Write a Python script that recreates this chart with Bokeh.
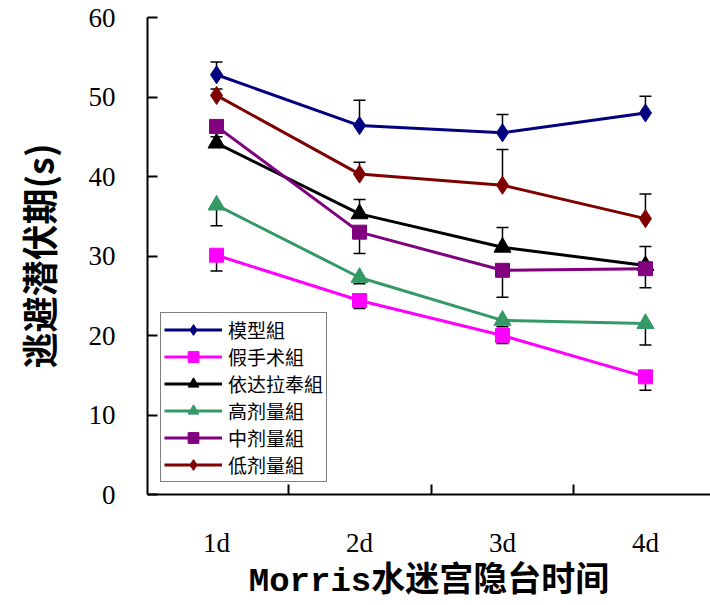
from bokeh.plotting import figure
from bokeh.models import (Range1d, FixedTicker, Whisker, TeeHead, ColumnDataSource,
                          Legend, LegendItem)
from bokeh.embed import file_html
from bokeh.resources import INLINE

# Escape latency (s) per training day, mean and one-sided error
days = ["1d", "2d", "3d", "4d"]
day_pos = [1, 2, 3, 4]

groups = ["模型組", "假手术組", "依达拉奉組", "高剂量組", "中剂量組", "低剂量組"]
means = {
    "模型組":   [52.8, 46.4, 45.5, 48.0],
    "假手术組": [30.1, 24.4, 20.0, 14.8],
    "依达拉奉組": [44.2, 35.3, 31.1, 28.8],
    "高剂量組": [36.4, 27.3, 21.9, 21.5],
    "中剂量組": [46.3, 33.0, 28.2, 28.4],
    "低剂量組": [50.2, 40.3, 38.9, 34.7],
}
errors = {
    "模型組":   [1.6, 3.2, 2.3, 2.1],
    "假手术組": [2.0, 1.0, 1.0, 1.7],
    "依达拉奉組": [0.8, 1.8, 2.5, 2.4],
    "高剂量組": [2.6, 0.8, 0.8, 2.7],
    "中剂量組": [0.8, 2.7, 3.4, 2.4],
    "低剂量組": [0.8, 1.5, 4.5, 3.1],
}
# which side of the mean each group's error bar is drawn on
err_side = {"模型組": "up", "假手术組": "down", "依达拉奉組": "up",
            "高剂量組": "down", "中剂量組": "down", "低剂量組": "up"}

colors = {"模型組": "#000080", "假手术組": "#FF00FF", "依达拉奉組": "#000000",
          "高剂量組": "#339966", "中剂量組": "#800080", "低剂量組": "#800000"}
markers = {"模型組": "diamond", "假手术組": "square", "依达拉奉組": "triangle",
           "高剂量組": "triangle", "中剂量組": "square", "低剂量組": "diamond"}
msize = {"diamond": 18, "square": 14, "triangle": 17}

y_ticks = [0, 10, 20, 30, 40, 50, 60]

p = figure(width=710, height=605, output_backend="svg", toolbar_location=None,
           x_range=Range1d(0.517, 4.455), y_range=Range1d(0, 60),
           min_border_left=147, min_border_right=0, min_border_top=17,
           min_border_bottom=111)
p.outline_line_color = None
p.xgrid.visible = False
p.ygrid.visible = False
p.background_fill_color = "white"
p.border_fill_color = "white"

# error bars first so that lines and markers sit on top
for g in groups:
    m, e = means[g], errors[g]
    if err_side[g] == "up":
        lo, hi = m, [a + b for a, b in zip(m, e)]
    else:
        lo, hi = [a - b for a, b in zip(m, e)], m
    src = ColumnDataSource(dict(x=day_pos, lower=lo, upper=hi))
    head = TeeHead(size=12, line_color="black", line_width=1.5)
    w = Whisker(base="x", lower="lower", upper="upper", source=src,
                line_color="black", line_width=1.5,
                upper_head=head if err_side[g] == "up" else None,
                lower_head=head if err_side[g] == "down" else None)
    p.add_layout(w)

items = []
for g in groups:
    src = ColumnDataSource(dict(x=day_pos, y=means[g]))
    lr = p.line("x", "y", source=src, line_color=colors[g], line_width=3)
    mk = markers[g]
    sr = p.scatter("x", "y", source=src, marker=mk, size=msize[mk],
                   fill_color=colors[g], line_color=colors[g])
    items.append(LegendItem(label=g, renderers=[lr, sr]))

legend = Legend(items=items, location=(13, 12), padding=3, spacing=0, margin=0,
                label_height=27, glyph_height=27, glyph_width=58, label_standoff=6,
                label_text_font="Noto Sans CJK SC", label_text_font_size="19px",
                label_text_color="black", border_line_color="black",
                border_line_width=1.5, background_fill_color="white",
                background_fill_alpha=1.0)
p.add_layout(legend)

# x axis: day labels centred between inward category separators
p.xaxis.ticker = FixedTicker(ticks=day_pos, minor_ticks=[1.5, 2.5, 3.5])
p.xaxis.major_label_overrides = {d: lab for d, lab in zip(day_pos, days)}
p.xaxis.major_tick_in = 0
p.xaxis.major_tick_out = 0
p.xaxis.minor_tick_in = 10
p.xaxis.minor_tick_out = 0
p.xaxis.minor_tick_line_width = 2
p.xaxis.minor_tick_line_color = "black"
p.xaxis.major_label_standoff = 33
p.xaxis.major_label_text_font = "Liberation Serif"
p.xaxis.major_label_text_font_size = "27px"
p.xaxis.major_label_text_color = "black"
p.xaxis.axis_label = "Morris水迷宫隐台时间"
p.xaxis.axis_label_text_font = "'Liberation Mono', 'Noto Sans CJK SC'"
p.xaxis.axis_label_text_font_size = "34px"
p.xaxis.axis_label_text_font_style = "bold"
p.xaxis.axis_label_text_color = "black"
p.xaxis.axis_label_standoff = 2
p.xaxis.axis_line_width = 2
p.xaxis.axis_line_color = "black"

# y axis with inward ticks
p.yaxis.ticker = FixedTicker(ticks=y_ticks)
p.yaxis.major_tick_in = 10
p.yaxis.major_tick_out = 0
p.yaxis.major_tick_line_width = 2
p.yaxis.major_tick_line_color = "black"
p.yaxis.minor_tick_line_color = None
p.yaxis.major_label_standoff = 32
p.yaxis.major_label_text_font = "Liberation Serif"
p.yaxis.major_label_text_font_size = "27px"
p.yaxis.major_label_text_color = "black"
p.yaxis.axis_label = "逃避潜伏期(s)"
p.yaxis.axis_label_text_font = "'Noto Sans CJK SC'"
p.yaxis.axis_label_text_font_size = "36px"
p.yaxis.axis_label_text_font_style = "bold"
p.yaxis.axis_label_text_color = "black"
p.yaxis.axis_label_standoff = 22
p.yaxis.axis_line_width = 2
p.yaxis.axis_line_color = "black"

open("out.html", "w").write(file_html(p, INLINE))
